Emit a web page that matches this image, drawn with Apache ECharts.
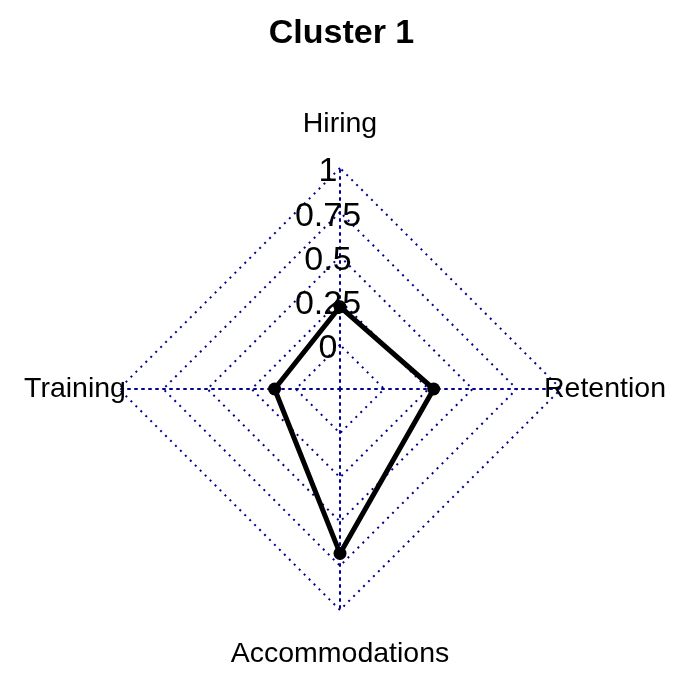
<!DOCTYPE html>
<html>
<head>
<meta charset="utf-8">
<script src="https://cdn.jsdelivr.net/npm/echarts@6/dist/echarts.min.js"></script>
<style>
html,body{margin:0;padding:0;background:#fff;}
#chart{width:683px;height:683px;}
</style>
</head>
<body>
<div id="chart"></div>
<script>
const chartTitle = 'Cluster 1';
const categories = ['Hiring', 'Training', 'Accommodations', 'Retention'];
const values = [0.215, 0.12, 0.68, 0.28];
const axisMin = -0.25;   // inner offset ring like fmsb (centre is not 0)
const axisMax = 1;
const segments = 5;

const FONT = '"Liberation Sans", Arial, Helvetica, sans-serif';
const chart = echarts.init(document.getElementById('chart'), null, {renderer: 'canvas'});

const indicator = categories.map((name, i) => {
  const o = {name: name, min: axisMin, max: axisMax};
  if (i === 0) o.axisLabel = {show: true};
  return o;
});

chart.setOption({
  backgroundColor: '#ffffff',
  animation: false,
  title: {
    text: chartTitle,
    left: 'center',
    top: 12,
    textStyle: {fontFamily: FONT, fontSize: 34, fontWeight: 'bold', color: '#000'}
  },
  radar: {
    center: [340, 389],
    radius: 221,
    startAngle: 90,
    shape: 'polygon',
    splitNumber: segments,
    indicator: indicator,
    nameGap: 44,
    axisName: {
      color: '#000',
      fontFamily: FONT,
      fontSize: 28.5,
      align: 'center',
      verticalAlign: 'middle'
    },
    axisLine: {show: true, lineStyle: {color: '#000090', width: 2, type: [2, 5]}},
    splitLine: {show: true, lineStyle: {color: '#000090', width: 2, type: [2, 5]}},
    splitArea: {show: false},
    axisTick: {show: false},
    axisLabel: {
      show: false,
      color: '#000',
      fontFamily: FONT,
      fontSize: 34,
      margin: 12,
      align: 'center',
      verticalAlign: 'middle',
      formatter: function (v) { return v < 0 ? '' : '{t|' + v + '}'; },
      rich: {
        t: {color: '#000', fontFamily: FONT, fontSize: 34, padding: [8, 0, 0, 0]}
      }
    }
  },
  series: [{
    type: 'radar',
    symbol: 'circle',
    symbolSize: 13,
    z: 5,
    lineStyle: {color: '#000', width: 5},
    itemStyle: {color: '#000'},
    areaStyle: null,
    data: [{value: values, name: chartTitle}]
  }]
});
</script>
</body>
</html>
